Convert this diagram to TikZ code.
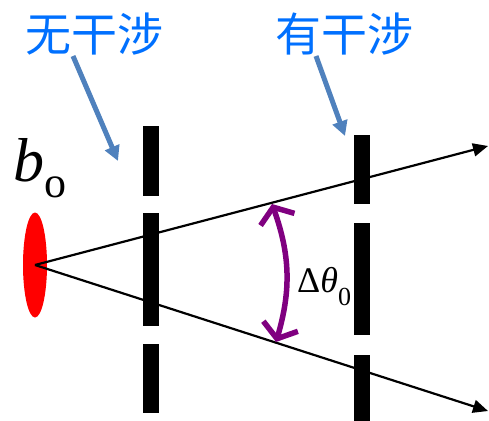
\documentclass[tikz,border=0pt]{standalone}
\usepackage{fontspec}
\usepackage{xcolor}
\usepackage{tikz}
\usetikzlibrary{arrows.meta,shapes.geometric}
\setmainfont{Liberation Serif}
\newfontfamily\cjk{Noto Sans CJK SC}
\definecolor{labelblue}{RGB}{0,112,255}
\definecolor{pointerblue}{RGB}{79,129,189}
\definecolor{anglepurple}{RGB}{128,0,128}

\begin{document}
\begin{tikzpicture}[
      x=1pt, y=-1pt,
      bar/.style={fill=black, minimum width=16pt, inner sep=0pt},
      label/.style={font=\cjk\fontsize{46}{46}\selectfont, text=labelblue, inner sep=0pt},
      pointer/.style={-{Triangle[length=15pt,width=15pt]}, line width=5pt, draw=pointerblue},
      ray/.style={-{Triangle[length=15pt,width=13pt]}, line width=2.2pt},
      angle/.style={{Straight Barb[length=13pt,width=36pt]}-{Straight Barb[length=13pt,width=36pt]},
                    line width=5.5pt, draw=anglepurple, line cap=round},
    ]
    \useasboundingbox (0,0) rectangle (489,420);

    % Labels
    \node[label] (nogap) at (94,34) {无干涉};
    \node[label] (withgap) at (344,34) {有干涉};

    % Pointers
    \coordinate (nogaptail) at (73,56);
    \coordinate (nogaptip) at (118,161);
    \coordinate (withgaptail) at (316,56);
    \coordinate (withgaptip) at (345,136);
    \draw[pointer] (nogaptail) -- (nogaptip);
    \draw[pointer] (withgaptail) -- (withgaptip);

    % Source
    \node[ellipse, fill=red, minimum width=24pt, minimum height=105pt, inner sep=0pt] (src) at (35,265) {};
    \node[anchor=base west, inner sep=0pt] (bo) at (13,181)
      {\fontsize{62}{62}\selectfont\itshape b\raisebox{-16pt}{\fontsize{44}{44}\selectfont\upshape o}};

    % First screen
    \node[bar, minimum height=70pt] (lefttop) at (151,161) {};
    \node[bar, minimum height=113pt] (leftmid) at (151,269.5) {};
    \node[bar, minimum height=69pt] (leftbot) at (151,378.5) {};

    % Second screen
    \node[bar, minimum height=69pt] (righttop) at (362,169.5) {};
    \node[bar, minimum height=112pt] (rightmid) at (362,279) {};
    \node[bar, minimum height=70pt] (rightbot) at (362,390) {};

    % Rays
    \coordinate (rayup) at (488,146);
    \coordinate (raydown) at (488,411);
    \draw[ray] (src.center) -- (rayup);
    \draw[ray] (src.center) -- (raydown);

    % Angle
    \coordinate (angletop) at (272,204);
    \coordinate (anglebot) at (276,342);
    \draw[angle] (angletop) to[bend left=18] (anglebot);
    \node[anchor=base west, inner sep=0pt] (dtheta) at (297,292)
      {\fontsize{36}{36}\selectfont Δ\itshape θ\raisebox{-13pt}{\fontsize{26}{26}\selectfont\upshape 0}};

  \end{tikzpicture}
\end{document}
